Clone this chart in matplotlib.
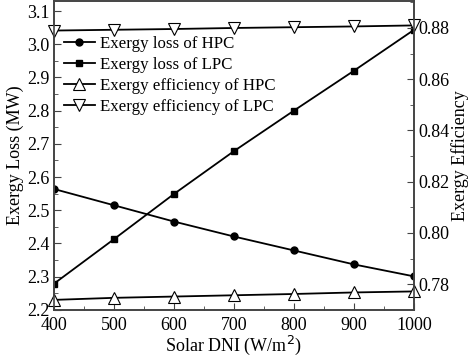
import matplotlib.pyplot as plt
from matplotlib.ticker import MultipleLocator

dni = [400, 500, 600, 700, 800, 900, 1000]
loss_hpc = [2.564, 2.515, 2.466, 2.421, 2.379, 2.337, 2.301]
loss_lpc = [2.279, 2.413, 2.549, 2.678, 2.800, 2.920, 3.043]
eff_hpc = [0.7739, 0.7747, 0.7752, 0.7757, 0.7762, 0.7768, 0.7772]
eff_lpc = [0.8790, 0.8793, 0.8796, 0.8800, 0.8803, 0.8806, 0.8810]

plt.rcParams['font.family'] = ['Liberation Serif', 'DejaVu Serif']
plt.rcParams['font.size'] = 13

fig = plt.figure(figsize=(4.74, 3.57), dpi=100)
ax = fig.add_axes([0.114, 0.132, 0.759, 0.865])
ax2 = ax.twinx()

l1, = ax.plot(dni, loss_hpc, '-o', color='black', lw=1.3, ms=5, label='Exergy loss of HPC')
l2, = ax.plot(dni, loss_lpc, '-s', color='black', lw=1.3, ms=5, label='Exergy loss of LPC')
l3, = ax2.plot(dni, eff_hpc, '-^', color='black', lw=1.3, ms=8, mfc='white', mew=0.8,
               label='Exergy efficiency of HPC', clip_on=False)
l4, = ax2.plot(dni, eff_lpc, '-v', color='black', lw=1.3, ms=8, mfc='white', mew=0.8,
               label='Exergy efficiency of LPC', clip_on=False)

ax.set_xlim(400, 1000)
ax.set_ylim(2.2, 3.13)
ax2.set_ylim(0.77, 0.8905)
ax.xaxis.set_major_locator(MultipleLocator(100))
ax.xaxis.set_minor_locator(MultipleLocator(50))
ax.yaxis.set_major_locator(MultipleLocator(0.1))
ax.yaxis.set_minor_locator(MultipleLocator(0.05))
ax2.yaxis.set_major_locator(MultipleLocator(0.02))
ax2.yaxis.set_minor_locator(MultipleLocator(0.01))
ax.yaxis.set_major_formatter(plt.FormatStrFormatter('%.1f'))
ax2.yaxis.set_major_formatter(plt.FormatStrFormatter('%.2f'))

for a in (ax, ax2):
    a.tick_params(which='both', direction='in', color='#444444')
    a.tick_params(which='major', length=5)
    a.tick_params(which='minor', length=3)
    for s in a.spines.values():
        s.set_color('#444444')
        s.set_linewidth(1.2)
ax.tick_params(which='both', top=False)
ax.tick_params(axis='x', pad=5)

ax.set_xlabel('Solar DNI (W/m$^2$)', fontsize=13, labelpad=0)
ax.set_ylabel('Exergy Loss (MW)', fontsize=13, labelpad=2)
ax2.set_ylabel('Exergy Efficiency', fontsize=13, labelpad=1)

ax.legend(handles=[l1, l2, l3, l4], loc='upper left', bbox_to_anchor=(0.0, 0.92),
          frameon=False, fontsize=12.2, handlelength=1.8, handletextpad=0.3,
          labelspacing=0.3, borderaxespad=0.2)

fig.savefig('out.png', dpi=100)
